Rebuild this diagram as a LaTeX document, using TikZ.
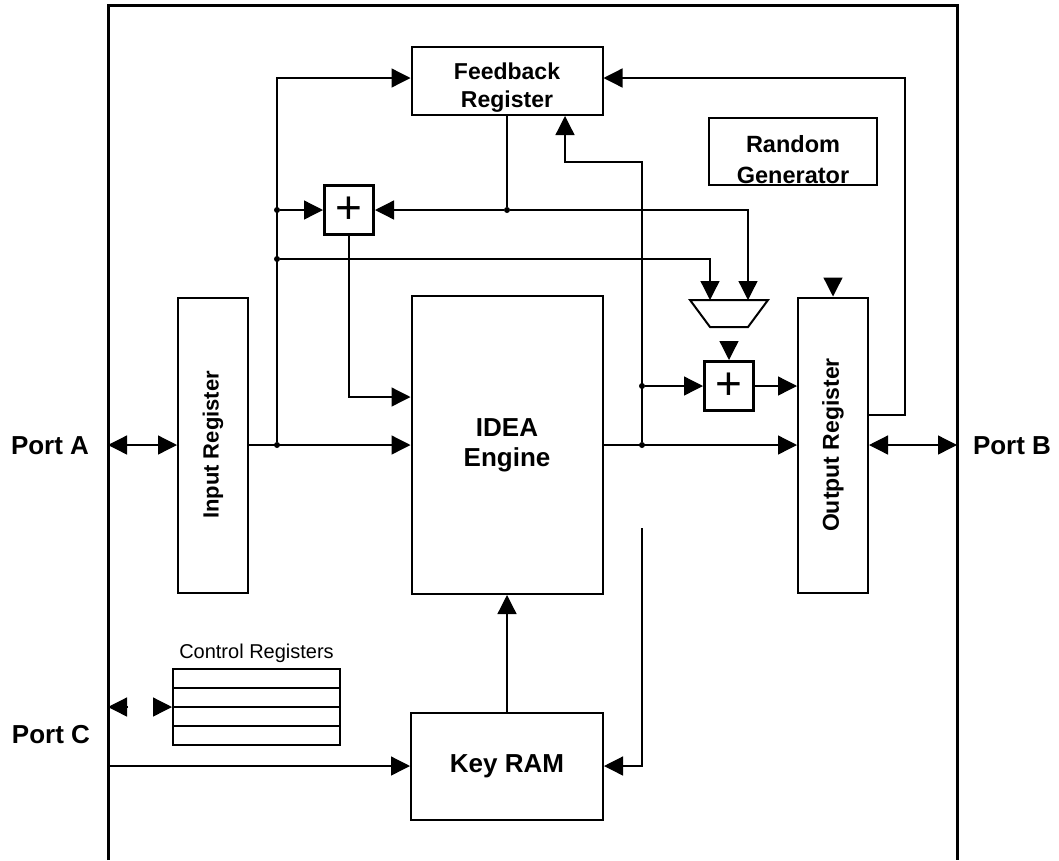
\documentclass[tikz,border=0pt]{standalone}
\usepackage{fontspec}
\setmainfont{Liberation Sans}
\usepackage{graphicx}
\usetikzlibrary{arrows.meta,positioning}

\begin{document}
\begin{tikzpicture}[
	x=1pt, y=-1pt,
	>={Triangle[length=19pt,width=19pt]},
	block/.style={rectangle, draw, line width=2pt, inner sep=0pt, align=center, font=\bfseries\fontsize{23}{28}\selectfont},
	adder/.style={rectangle, draw, line width=3pt, minimum size=49pt, inner sep=0pt, font=\fontsize{46}{46}\selectfont},
	line/.style={draw, ->, line width=1.3pt},
	both/.style={draw, <->, line width=1.3pt},
	wire/.style={draw, line width=1.3pt},
	dot/.style={circle, fill, inner sep=0pt, minimum size=6pt},
	port/.style={font=\bfseries\fontsize{26}{26}\selectfont}
	]
	\useasboundingbox (0,0) rectangle (1059,860);
	% Marco del chip
	\draw[line width=3pt] (108,860) -- (108,5) -- (957,5) -- (957,860);

	% Bloques
	\node [block, minimum width=191pt, text height=60pt, text depth=8pt] (fbk) at (507,81) {Feedback\\Register};
	\node [block, minimum width=168pt, text height=65pt, text depth=2pt, font=\bfseries\fontsize{23.5}{31}\selectfont] (rng) at (793,151.5) {Random\\Generator};
	\node [adder] (add1) at (349,210) {+};
	\node [block, minimum width=70pt, minimum height=295pt, font=\bfseries\fontsize{22}{22}\selectfont] (inreg) at (213,445) {\rotatebox{90}{Input Register}};
	\node [block, minimum width=191pt, minimum height=298pt, font=\bfseries\fontsize{26}{30}\selectfont] (idea) at (507,445) {IDEA\\Engine};
	% Multiplexor
	\draw[line width=2pt] (690,300) -- (768,300) -- (748,327) -- (710,327) -- cycle;
	\node [adder] (add2) at (729,386) {+};
	\node [block, minimum width=70pt, minimum height=295pt, font=\bfseries\fontsize{23}{24}\selectfont] (outreg) at (833,445) {\rotatebox{90}{Output Register}};
	\node [block, minimum width=192pt, minimum height=107pt, font=\bfseries\fontsize{26}{30}\selectfont] (kram) at (507,766) {Key RAM};
	\node [rectangle, draw, line width=2pt, minimum width=167pt, minimum height=76pt] (creg) at (256.5,707) {};
	\node [font=\fontsize{20}{20}\selectfont, above=2pt of creg] (creglbl) {Control Registers};
	\draw[line width=1.6pt] (173,688) -- (340,688);
	\draw[line width=2pt] (173,707) -- (340,707);
	\draw[line width=1.6pt] (173,726) -- (340,726);

	% Puertos
	\node [port] (pA) at (50,446) {Port A};
	\node [port] (pB) at (1012,446) {Port B};
	\node [port] (pC) at (51,735) {Port C};
	\coordinate (pa) at (108,445);
	\coordinate (pb) at (957,445);
	\coordinate (pc) at (108,766);
	\coordinate (pcc) at (108,707);
	\coordinate (cc) at (140,707);

	% Puntos de union
	\node [dot] (j1) at (277,445) {};
	\node [dot] (j2) at (277,210) {};
	\node [dot] (j3) at (277,259) {};
	\node [dot] (j4) at (507,210) {};
	\node [dot] (j5) at (642,445) {};
	\node [dot] (j6) at (642,386) {};
	\coordinate (mx1) at (710,300);
	\coordinate (mx2) at (748,300);
	\coordinate (mxo) at (729,327);
	\coordinate (c2) at (642,162);
	\coordinate (c4) at (642,528);
	\coordinate (rin) at (833,280);

	% Conexiones
	\path [both] (pa) -- (inreg.west);
	\path [line] (inreg.east) -- (idea.west);
	\path [line] (j1) |- ([yshift=3pt]fbk.west);
	\path [line] (j2) -- (add1.west);
	\path [line] (j3) -| (mx1);
	\path [wire] (fbk.south) -- (j4);
	\path [line] (j4) -- (add1.east);
	\path [line] (j4) -| (mx2);
	\path [line] (add1.south) |- ([yshift=48pt]idea.west);
	\path [line] (idea.east) -- (outreg.west);
	\path [line] (j6) -- (add2.west);
	\path [line] (j5) -- (c2) -| ([xshift=58pt]fbk.south);
	\path [line, shorten <=15pt] (mxo) -- (add2.north);
	\path [line] (add2.east) -- (outreg.west |- add2.east);
	\path [line] (rin) -- (outreg.north);
	\path [line] ([yshift=30pt]outreg.east) -- ++(36,0) |- ([yshift=3pt]fbk.east);
	\path [both] (outreg.east) -- (pb);
	\path [line] (c4) |- (kram.east);
	\path [line] (kram.north) -- (idea.south);
	\path [line] (pc) -- (kram.west);
	\path [line, shorten <=12pt] (cc) -- (pcc);
	\path [line, shorten <=13pt] (cc) -- (creg.west);
\end{tikzpicture}
\end{document}
